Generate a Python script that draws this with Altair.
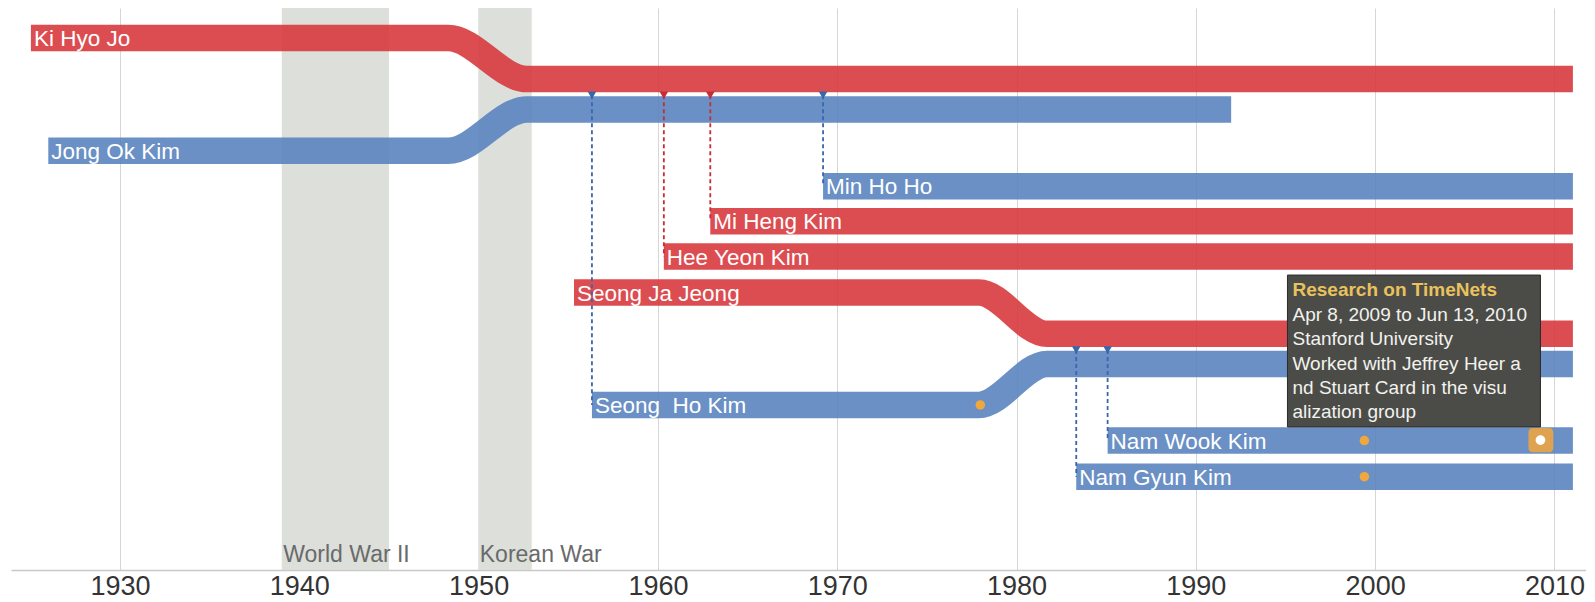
import altair as alt
import pandas as pd

# ---------------- data ----------------
names = ["Ki Hyo Jo", "Jong Ok Kim", "Min Ho Ho", "Mi Heng Kim", "Hee Yeon Kim",
         "Seong Ja Jeong", "Seong\u00a0 Ho Kim", "Nam Wook Kim", "Nam Gyun Kim"]
sexes = ["F", "M", "M", "F", "F", "F", "M", "M", "M"]
start_years = [1925.03, 1926.0, 1969.21, 1962.92, 1960.33, 1955.32, 1956.32, 1985.08, 1983.33]
end_years = [2011.03, 1991.97, 2011.03, 2011.03, 2011.03, 2011.03, 2011.03, 2011.03, 2011.03]
# row (lane) of each life line, before and after marriage
lanes_before = [0.86, 4.08, 5.09, 6.09, 7.10, 8.13, 11.34, 12.36, 13.39]
lanes_after = [2.03, 2.90, None, None, None, 9.31, 10.17, None, None]
marriage_from = [1948.3, 1948.3, None, None, None, 1977.9, 1977.9, None, None]
marriage_to = [1952.7, 1952.7, None, None, None, 1981.7, 1981.7, None, None]

# parent -> child links (child index, lane of the couple's link origin)
link_children = [6, 4, 3, 2, 8, 7]
link_origin_lanes = [2.49, 2.49, 2.49, 2.49, 9.77, 9.77]

# events on life lines
event_years = [1977.98, 1999.4, 1999.4]
event_lanes = [11.34, 12.36, 13.39]

# historical periods
period_names = ["World War II", "Korean War"]
period_start = [1939.02, 1949.98]
period_end = [1945.0, 1952.96]
period_label_lane = 15.83

# highlighted event and its tooltip
hl_year = 2009.22
hl_from, hl_to = 2008.55, 2009.94
hl_lane_top, hl_lane_bottom = 12.0, 12.69
tip_x0, tip_x1 = 1995.11, 2009.22
tip_lane_top, tip_lane_bottom = 7.63, 11.97
tip_text_year = 1995.39
tip_title = "Research on TimeNets"
tip_title_lane = 8.06
tip_lines = ["Apr 8, 2009 to Jun 13, 2010", "Stanford University",
             "Worked with Jeffrey Heer a", "nd Stuart Card in the visu", "alization group"]
tip_line_lanes = [8.76, 9.46, 10.16, 10.86, 11.55]

tick_years = [1930, 1940, 1950, 1960, 1970, 1980, 1990, 2000, 2010]

# ---------------- styles ----------------
RED = "#d83a3e"
BLUE = "#5a84bf"
RED_D = "#c42e38"
BLUE_D = "#3a66aa"
FONT = "Liberation Sans"

# ---------------- tables ----------------
rows = []
for i, n in enumerate(names):
    rows.append({"name": n, "sex": sexes[i], "year": start_years[i], "lane": lanes_before[i]})
    if marriage_from[i] is not None:
        rows.append({"name": n, "sex": sexes[i], "year": marriage_from[i], "lane": lanes_before[i]})
        rows.append({"name": n, "sex": sexes[i], "year": marriage_to[i], "lane": lanes_after[i]})
        rows.append({"name": n, "sex": sexes[i], "year": end_years[i], "lane": lanes_after[i]})
    else:
        rows.append({"name": n, "sex": sexes[i], "year": end_years[i], "lane": lanes_before[i]})
lines_df = pd.DataFrame(rows)

people_df = pd.DataFrame({"name": names, "sex": sexes, "year": start_years, "lane": lanes_before})

links_df = pd.DataFrame({
    "year": [start_years[c] for c in link_children],
    "top": link_origin_lanes,
    "bottom": [lanes_before[c] for c in link_children],
    "sex": [sexes[c] for c in link_children],
})

events_df = pd.DataFrame({"year": event_years, "lane": event_lanes})
periods_df = pd.DataFrame({"name": period_names, "start": period_start, "end": period_end,
                           "lane": [period_label_lane] * len(period_names)})
hl_df = pd.DataFrame({"x0": [hl_from], "x1": [hl_to], "y0": [hl_lane_top], "y1": [hl_lane_bottom],
                      "year": [hl_year], "lane": [(hl_lane_top + hl_lane_bottom) / 2]})
tip_df = pd.DataFrame({"x0": [tip_x0], "x1": [tip_x1], "y0": [tip_lane_top], "y1": [tip_lane_bottom]})
tip_title_df = pd.DataFrame({"text": [tip_title], "lane": [tip_title_lane], "year": [tip_text_year]})
tip_text_df = pd.DataFrame({"text": tip_lines, "lane": tip_line_lanes,
                            "year": [tip_text_year] * len(tip_lines)})

# ---------------- scales ----------------
W, H = 1575, 562
xscale = alt.Scale(domain=[1923.92, 2011.76], nice=False, zero=False)
yscale = alt.Scale(domain=[0, H / 35.0], nice=False, zero=False, reverse=True)

xaxis = alt.Axis(values=tick_years, format="d", title=None, grid=True, ticks=False,
                 labelFontSize=27, labelFont=FONT, labelColor="#333333", labelPadding=3,
                 labelFlush=False, domainColor="#c8c8c8", domainWidth=1.5,
                 gridColor="#d6d6d6", gridWidth=1)


def X(field):
    return alt.X(field, scale=xscale, axis=xaxis)


def Y(field):
    return alt.Y(field, scale=yscale, axis=None)


sex_color = alt.condition(alt.datum.sex == "F", alt.value(RED), alt.value(BLUE))
sex_color_d = alt.condition(alt.datum.sex == "F", alt.value(RED_D), alt.value(BLUE_D))

bands = alt.Chart(periods_df).mark_rect(color="#dcdfda").encode(x=X("start:Q"), x2="end:Q")

band_labels = alt.Chart(periods_df).mark_text(
    align="left", baseline="alphabetic", dx=1.5, font=FONT, fontSize=23, color="#6a6a6a"
).encode(x=X("start:Q"), y=Y("lane:Q"), text="name:N")

life = alt.Chart(lines_df).mark_line(
    interpolate="monotone", strokeWidth=26.5, strokeCap="butt", opacity=0.9
).encode(x=X("year:Q"), y=Y("lane:Q"), detail="name:N", order="year:Q", color=sex_color)

labels = alt.Chart(people_df).mark_text(
    align="left", baseline="middle", dx=3, dy=1, font=FONT, fontSize=22.5, color="#ffffff"
).encode(x=X("year:Q"), y=Y("lane:Q"), text="name:N")

links = alt.Chart(links_df).mark_rule(strokeDash=[4, 3], strokeWidth=1.8).encode(
    x=X("year:Q"), y=Y("top:Q"), y2="bottom:Q", color=sex_color_d)

arrows = alt.Chart(links_df).mark_point(shape="triangle-down", filled=True, size=75, opacity=1).encode(
    x=X("year:Q"), y=Y("top:Q"), color=sex_color_d)

events = alt.Chart(events_df).mark_circle(size=90, color="#f0a83c", opacity=1).encode(
    x=X("year:Q"), y=Y("lane:Q"))

hl_box = alt.Chart(hl_df).mark_rect(cornerRadius=4, color="#e8a445", opacity=0.92).encode(
    x=X("x0:Q"), x2="x1:Q", y=Y("y0:Q"), y2="y1:Q")
hl_dot = alt.Chart(hl_df).mark_circle(size=95, color="#ffffff", opacity=1).encode(
    x=X("year:Q"), y=Y("lane:Q"))

tip_shadow = alt.Chart(tip_df).mark_rect(color="#000000", opacity=0.22, xOffset=4, yOffset=3).encode(
    x=X("x0:Q"), x2="x1:Q", y=Y("y0:Q"), y2="y1:Q")
tip_box = alt.Chart(tip_df).mark_rect(color="#4b4c47", stroke="#2a2a28", strokeWidth=1).encode(
    x=X("x0:Q"), x2="x1:Q", y=Y("y0:Q"), y2="y1:Q")
tip_title_mark = alt.Chart(tip_title_df).mark_text(
    align="left", baseline="middle", font=FONT, fontSize=19, fontWeight="bold", color="#e9c25e"
).encode(x=X("year:Q"), y=Y("lane:Q"), text="text:N")
tip_text = alt.Chart(tip_text_df).mark_text(
    align="left", baseline="middle", font=FONT, fontSize=19, color="#f2f2ee"
).encode(x=X("year:Q"), y=Y("lane:Q"), text="text:N")

chart = alt.layer(
    bands, band_labels, life, labels, links, arrows, events, hl_box, hl_dot,
    tip_shadow, tip_box, tip_title_mark, tip_text
).properties(
    width=W, height=H, autosize="none",
    padding={"left": 3, "top": 0, "right": 0, "bottom": 31},
    background="#ffffff"
).configure_view(stroke=None)

chart.save("out.html", embed_options={"renderer": "svg", "actions": False})
